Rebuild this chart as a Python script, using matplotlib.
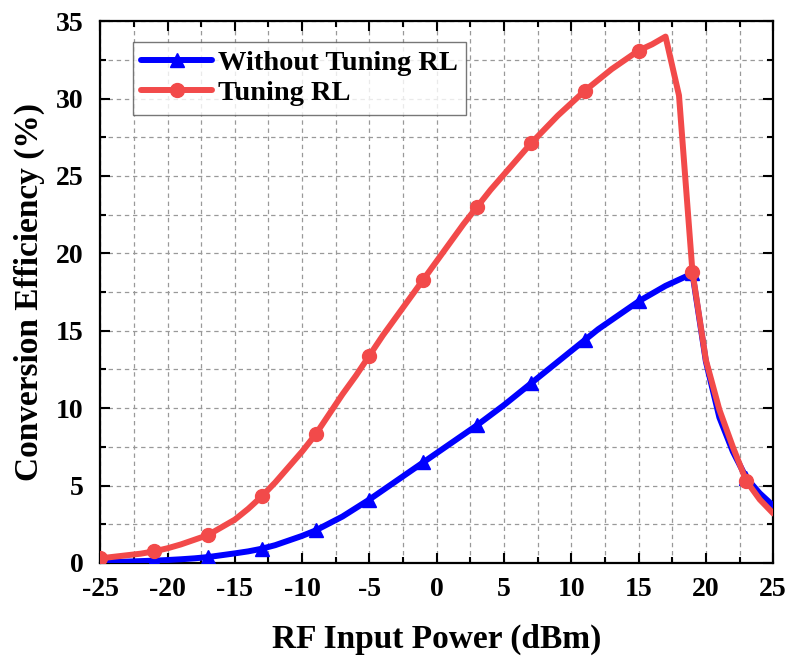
import numpy as np
import matplotlib
matplotlib.use("Agg")
import matplotlib.pyplot as plt
from matplotlib.ticker import MultipleLocator

# RF input power sweep (dBm)
power_dbm = list(range(-25, 26))

# Conversion efficiency (%) without load tuning
eff_without = [0.05, 0.07, 0.09, 0.12, 0.15, 0.19, 0.24, 0.30, 0.38, 0.50,
               0.62, 0.75, 0.92, 1.15, 1.45, 1.75, 2.1, 2.55, 3.0, 3.55,
               4.1, 4.7, 5.3, 5.9, 6.5, 7.1, 7.7, 8.3, 8.9, 9.55,
               10.2, 10.9, 11.6, 12.3, 13.0, 13.7, 14.4, 15.1, 15.7, 16.3,
               16.9, 17.4, 17.9, 18.3, 18.7, 13.0, 9.4, 7.2, 5.5, 4.5, 3.7]

# Conversion efficiency (%) with load tuning
eff_tuning = [0.3, 0.4, 0.5, 0.6, 0.75, 0.95, 1.2, 1.5, 1.8, 2.3,
              2.8, 3.5, 4.3, 5.2, 6.2, 7.2, 8.3, 9.6, 10.9, 12.1,
              13.4, 14.7, 15.9, 17.1, 18.3, 19.5, 20.7, 21.9, 23.0, 24.1,
              25.1, 26.1, 27.1, 28.0, 28.9, 29.7, 30.5, 31.2, 31.9, 32.5,
              33.1, 33.5, 34.0, 30.2, 18.8, 13.1, 9.9, 7.5, 5.3, 4.1, 3.2]

series_labels = ["Without Tuning RL", "Tuning RL"]

plt.rcParams["font.family"] = ["Liberation Serif", "DejaVu Serif"]
plt.rcParams["font.weight"] = "bold"
plt.rcParams["axes.unicode_minus"] = False

fig = plt.figure(figsize=(7.89, 6.60), dpi=100)
ax = fig.add_axes([0.127, 0.147, 0.853, 0.821])

ax.plot(power_dbm, eff_without, color="#0000FF", lw=4.3, marker="^", ms=10,
        markevery=slice(0, None, 4), label=series_labels[0], zorder=3,
        solid_capstyle="round", solid_joinstyle="round")
ax.plot(power_dbm, eff_tuning, color="#F24A4A", lw=4.3, marker="o", ms=10,
        markevery=slice(0, None, 4), label=series_labels[1], zorder=4,
        solid_capstyle="round", solid_joinstyle="round")

ax.set_xlim(-25, 25)
ax.set_ylim(0, 35)
ax.xaxis.set_major_locator(MultipleLocator(5))
ax.xaxis.set_minor_locator(MultipleLocator(2.5))
ax.yaxis.set_major_locator(MultipleLocator(5))
ax.yaxis.set_minor_locator(MultipleLocator(2.5))

ax.grid(True, which="both", ls=(0, (3.5, 3)), color="#999999", lw=0.9)
ax.set_axisbelow(True)

ax.tick_params(which="both", direction="in", top=True, right=True, width=1.5,
               labelsize=20)
ax.tick_params(which="major", length=7)
ax.tick_params(which="minor", length=4)
ax.tick_params(axis="x", pad=10)
ax.tick_params(axis="y", pad=12)
for s in ax.spines.values():
    s.set_linewidth(1.6)

ax.set_xlabel("RF Input Power (dBm)", fontsize=24, fontweight="bold", labelpad=16)
ax.set_ylabel("Conversion Efficiency (%)", fontsize=24, fontweight="bold", labelpad=8)

leg = ax.legend(loc="upper left", bbox_to_anchor=(0.048, 0.962), fontsize=20.5,
                frameon=True, fancybox=False, edgecolor="#555555",
                handlelength=2.5, borderpad=0.3, labelspacing=0.15,
                handletextpad=0.2, borderaxespad=0)
leg.get_frame().set_linewidth(1.0)

fig.savefig("out.png", dpi=100)
